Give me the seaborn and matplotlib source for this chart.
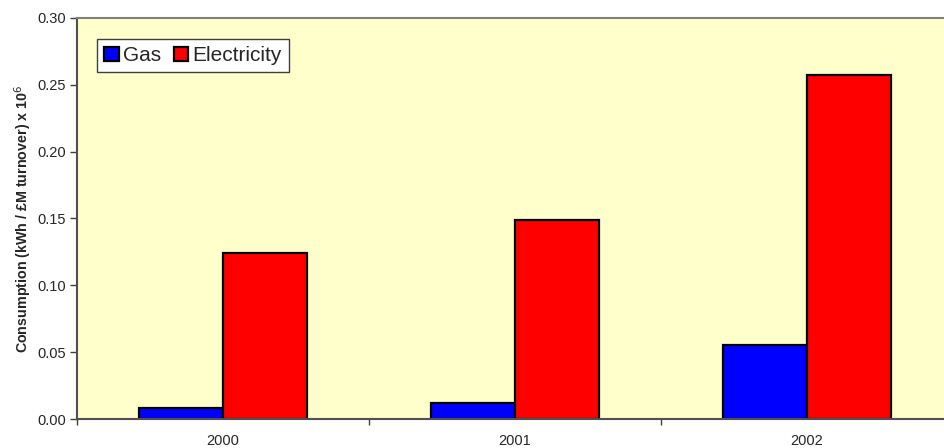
import matplotlib
matplotlib.use("Agg")
import matplotlib.pyplot as plt
from matplotlib.ticker import MultipleLocator, FixedLocator
import seaborn as sns
import pandas as pd

years = ["2000", "2001", "2002"]
gas = [0.008, 0.012, 0.055]
electricity = [0.124, 0.149, 0.257]
series = ["Gas", "Electricity"]
colors = ["#0000FF", "#FF0000"]

df = pd.DataFrame({
    "year": years * 2,
    "value": gas + electricity,
    "fuel": ["Gas"] * len(years) + ["Electricity"] * len(years),
})

sns.set_theme(style="white")
plt.rcParams["font.family"] = ["Liberation Sans", "DejaVu Sans"]

fig = plt.figure(figsize=(9.44, 4.48), dpi=100)
fig.patch.set_facecolor("white")
ax = fig.add_axes([77 / 944, 29 / 448, 876 / 944, 401 / 448])
ax.set_facecolor("#FFFFCC")

sns.barplot(data=df, x="year", y="value", hue="fuel", hue_order=series,
            palette=colors, width=0.575, edgecolor="black", linewidth=1.6,
            saturation=1, errorbar=None, ax=ax)

ax.set_xlim(-0.5, 2.5)
ax.set_ylim(0, 0.30)
ax.yaxis.set_major_locator(MultipleLocator(0.05))
ax.yaxis.set_major_formatter(matplotlib.ticker.FormatStrFormatter("%.2f"))
ax.tick_params(axis="y", which="major", direction="out", length=5, width=1,
               color="#404040", labelsize=10.5, pad=3, left=True)
ax.tick_params(axis="x", which="major", length=0, labelsize=10.5, pad=11)
ax.xaxis.set_minor_locator(FixedLocator([-0.5, 0.5, 1.5]))
ax.tick_params(axis="x", which="minor", direction="out", length=4, width=1,
               color="#404040", bottom=True)
ax.set_xlabel("")
ax.set_ylabel("Consumption (kWh / £M turnover) x 10$^6$", fontsize=10.3,
              fontweight="bold", labelpad=2)

for side in ["left", "bottom"]:
    ax.spines[side].set_color("#505050")
    ax.spines[side].set_linewidth(1.5)
ax.spines["top"].set_color("#808080")
ax.spines["top"].set_linewidth(1.5)
ax.spines["right"].set_visible(False)

handles, labels = ax.get_legend_handles_labels()
leg = ax.legend(handles, labels, loc="upper left",
                bbox_to_anchor=(0.023, 0.948), ncol=2, frameon=True,
                fancybox=False, fontsize=15, handlelength=0.7,
                handleheight=0.7, handletextpad=0.2, columnspacing=0.6,
                borderpad=0.35, borderaxespad=0)
leg.get_frame().set_edgecolor("#404040")
leg.get_frame().set_linewidth(1.0)
leg.get_frame().set_facecolor("white")
leg.get_frame().set_alpha(1)
for h in leg.legend_handles:
    h.set_edgecolor("black")
    h.set_linewidth(1.6)

fig.savefig("out.png", dpi=100)
